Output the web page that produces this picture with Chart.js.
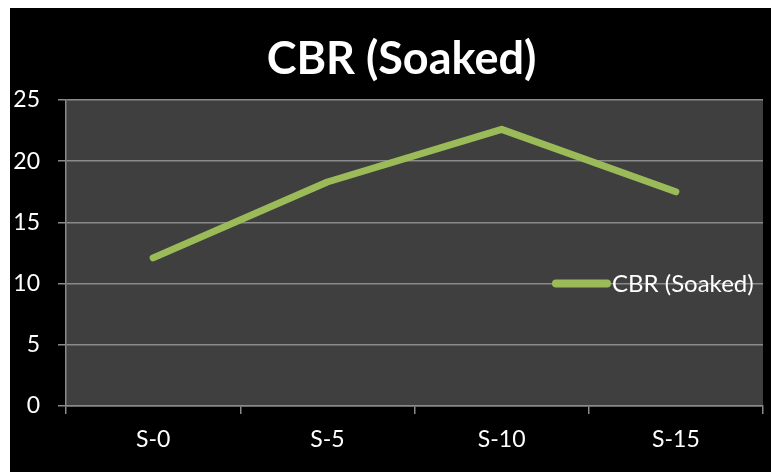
<!DOCTYPE html>
<html>
<head>
<meta charset="utf-8">
<script src="https://cdn.jsdelivr.net/npm/chart.js@4/dist/chart.umd.min.js"></script>
<style>
  html, body { margin: 0; padding: 0; background: #ffffff; width: 771px; height: 472px; overflow: hidden; }
  #wrap { position: absolute; left: 10px; top: 8px; width: 761px; height: 464px; background: #000000; }
  canvas { display: block; }
</style>
</head>
<body>
<div id="wrap"><canvas id="c" width="761" height="464"></canvas></div>
<script>
const chartTitle = 'CBR (Soaked)';
const seriesName = 'CBR (Soaked)';
const categories = ['S-0', 'S-5', 'S-10', 'S-15'];
const cbrSoaked = [12.1, 18.3, 22.6, 17.5];
const yTickLabels = ['0', '5', '10', '15', '20', '25'];

const FONT = 'Lato, "Open Sans", sans-serif';
const LINE_COLOR = '#9BBB59';
const GRID = '#8a8a8a';

const plotBg = {
  id: 'plotBg',
  beforeDraw(chart) {
    const { ctx, chartArea: a } = chart;
    ctx.save();
    ctx.fillStyle = '#3f3f3f';
    ctx.fillRect(a.left, a.top, a.right - a.left, a.bottom - a.top);
    ctx.restore();
  }
};

// Excel centres the title slightly right of the canvas centre
const titleShift = {
  id: 'titleShift',
  afterLayout(chart) {
    const t = chart.titleBlock;
    if (t) { t.left += 30; }
  }
};

const insideLegend = {
  id: 'insideLegend',
  afterDatasetsDraw(chart) {
    const { ctx, chartArea: a } = chart;
    const ds = chart.data.datasets[0];
    const y = a.top + 183.5;
    const x0 = a.right - 211;
    ctx.save();
    ctx.strokeStyle = ds.borderColor;
    ctx.lineWidth = 8;
    ctx.lineCap = 'round';
    ctx.beginPath();
    ctx.moveTo(x0 + 4, y);
    ctx.lineTo(x0 + 55, y);
    ctx.stroke();
    ctx.fillStyle = '#ffffff';
    ctx.font = '24px ' + FONT;
    ctx.textAlign = 'left';
    ctx.textBaseline = 'middle';
    ctx.fillText(ds.label, x0 + 60, y + 1);
    ctx.restore();
  }
};

new Chart(document.getElementById('c'), {
  type: 'line',
  data: {
    labels: categories,
    datasets: [{
      label: seriesName,
      data: cbrSoaked,
      borderColor: LINE_COLOR,
      backgroundColor: LINE_COLOR,
      borderWidth: 7,
      borderCapStyle: 'round',
      borderJoinStyle: 'round',
      pointRadius: 0,
      tension: 0,
      fill: false
    }]
  },
  options: {
    responsive: false,
    animation: false,
    layout: { padding: { left: 0, right: 8, top: 0, bottom: 0 } },
    plugins: {
      legend: { display: false },
      tooltip: { enabled: false },
      title: {
        display: true,
        text: chartTitle,
        color: '#ffffff',
        font: { family: FONT, size: 45, weight: 'bold' },
        padding: { top: 24, bottom: 14 }
      }
    },
    scales: {
      x: {
        type: 'category',
        offset: true,
        afterFit(s) { s.height = 66; },
        grid: {
          offset: true,
          drawOnChartArea: false,
          drawTicks: true,
          tickLength: 8,
          color: GRID,
          lineWidth: 1.5
        },
        border: { display: true, color: GRID, width: 1.5 },
        ticks: {
          color: '#ffffff',
          font: { family: FONT, size: 23 },
          padding: 12,
          maxRotation: 0
        }
      },
      y: {
        min: 0,
        max: 25,
        afterFit(s) { s.width = 56; },
        grid: {
          drawOnChartArea: true,
          drawTicks: true,
          tickLength: 8,
          color: GRID,
          lineWidth: 1.5
        },
        border: { display: true, color: GRID, width: 1.5 },
        ticks: {
          stepSize: 5,
          autoSkip: false,
          color: '#ffffff',
          font: { family: FONT, size: 23 },
          padding: 18,
          callback(value) { return yTickLabels[Math.round(value / 5)]; }
        }
      }
    }
  },
  plugins: [plotBg, titleShift, insideLegend]
});
</script>
</body>
</html>
